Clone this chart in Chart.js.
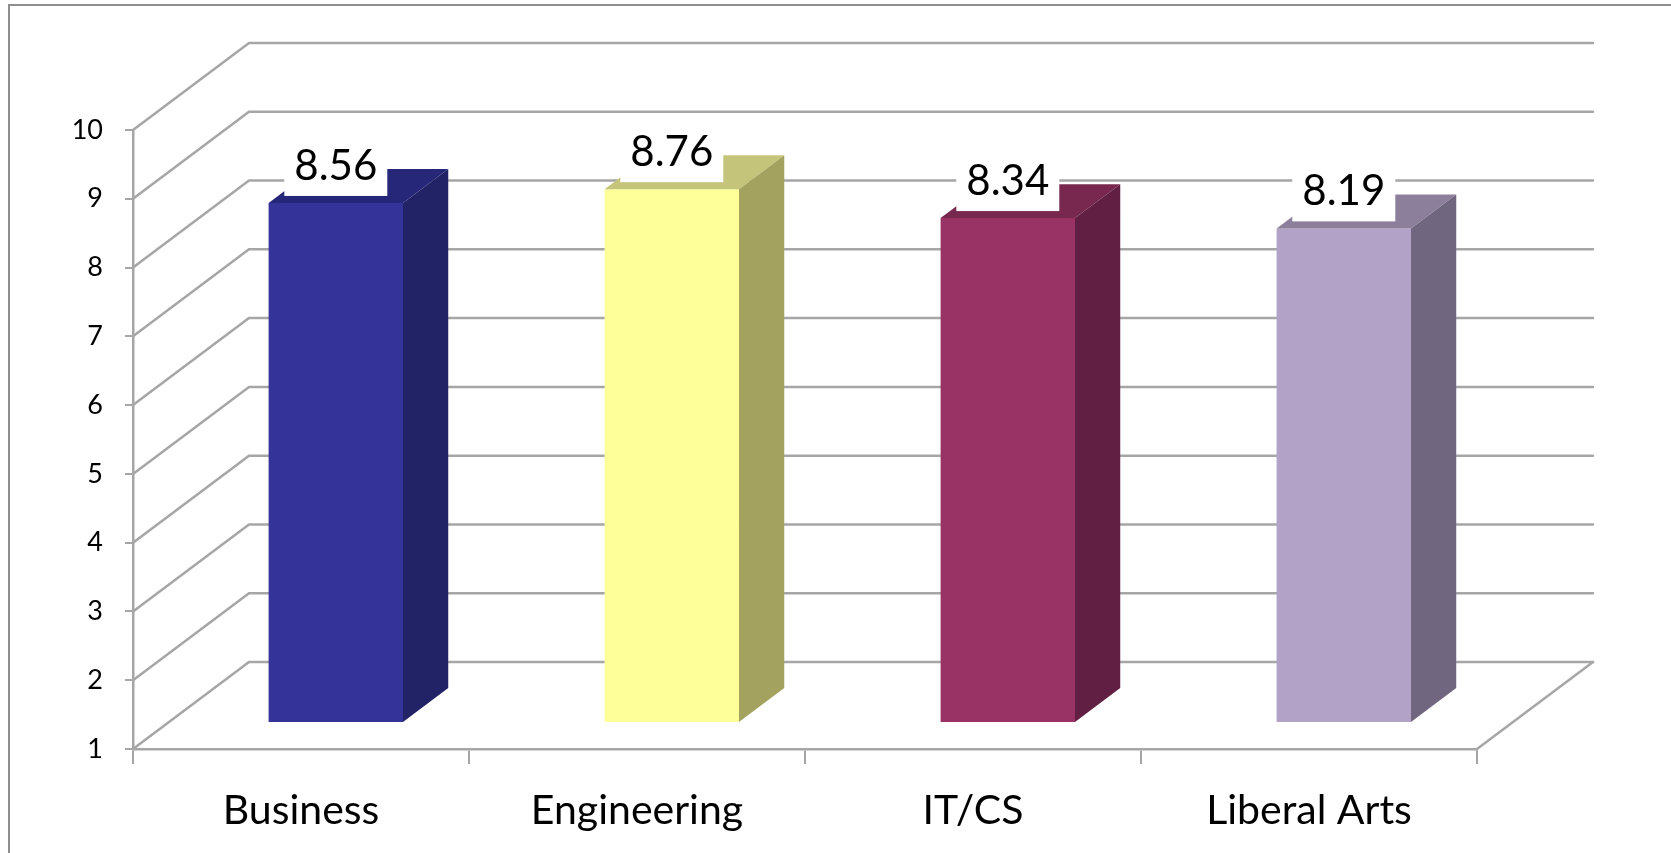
<!DOCTYPE html>
<html>
<head>
<meta charset="utf-8">
<script src="https://cdn.jsdelivr.net/npm/chart.js@4.4.0/dist/chart.umd.min.js"></script>
<style>
  html, body { margin: 0; padding: 0; background: #fff; }
  #wrap { width: 1671px; height: 853px; }
</style>
</head>
<body>
<div id="wrap"><canvas id="chart" width="1671" height="853"></canvas></div>
<script>
// values
const categories = ['Business', 'Engineering', 'IT/CS', 'Liberal Arts'];
const scores = [8.56, 8.76, 8.34, 8.19];
const yTicks = [1, 2, 3, 4, 5, 6, 7, 8, 9, 10];

// front / top / side face colours per bar
const frontColors = ['#333399', '#ffff99', '#993366', '#b3a2c7'];
const topColors = ['#27277a', '#c4c47a', '#78284f', '#8c7f9c'];
const sideColors = ['#222266', '#a3a35f', '#611f44', '#716680'];

const GRID = '#a6a6a6';
const DEPTH = { x: 116, y: -87 };   // how far the back wall sits behind the axis plane
const BAR_FRONT = 0.3;               // bar front face, as a share of the depth
const BAR_DEPTH = 0.39;              // bar thickness, as a share of the depth

// fake 3D: walls behind, extra faces on each bar, white value boxes
const pseudo3d = {
    id: 'pseudo3d',
    beforeDraw(chart) {
        const ctx = chart.ctx;
        ctx.save();
        ctx.strokeStyle = '#8e8e8e';
        ctx.lineWidth = 2;
        ctx.beginPath();
        ctx.moveTo(9, chart.height);
        ctx.lineTo(9, 5);
        ctx.lineTo(chart.width, 5);
        ctx.stroke();
        ctx.restore();
    },
    beforeDatasetsDraw(chart) {
        const ctx = chart.ctx;
        const area = chart.chartArea;
        const y = chart.scales.y;
        ctx.save();
        ctx.strokeStyle = GRID;
        ctx.lineWidth = 2.5;
        ctx.lineCap = 'round';
        yTicks.forEach(v => {
            const py = y.getPixelForValue(v);
            ctx.beginPath();
            ctx.moveTo(area.left, py);
            ctx.lineTo(area.left + DEPTH.x, py + DEPTH.y);
            ctx.lineTo(area.right + DEPTH.x, py + DEPTH.y);
            ctx.stroke();
        });
        // floor edge on the right
        ctx.beginPath();
        ctx.moveTo(area.right, area.bottom);
        ctx.lineTo(area.right + DEPTH.x, area.bottom + DEPTH.y);
        ctx.stroke();
        ctx.restore();

        // the library draws the front faces, pushed into the depth
        ctx.save();
        ctx.translate(DEPTH.x * BAR_FRONT, DEPTH.y * BAR_FRONT);
    },
    afterDatasetsDraw(chart) {
        const ctx = chart.ctx;
        ctx.restore();

        const fx = DEPTH.x * BAR_FRONT, fy = DEPTH.y * BAR_FRONT;
        const bx = DEPTH.x * BAR_DEPTH, by = DEPTH.y * BAR_DEPTH;
        const meta = chart.getDatasetMeta(0);
        ctx.save();
        meta.data.forEach((bar, i) => {
            const left = bar.x - bar.width / 2 + fx;
            const right = bar.x + bar.width / 2 + fx;
            const top = bar.y + fy;
            const bottom = bar.base + fy;

            ctx.fillStyle = topColors[i];
            ctx.beginPath();
            ctx.moveTo(left, top);
            ctx.lineTo(right, top);
            ctx.lineTo(right + bx, top + by);
            ctx.lineTo(left + bx, top + by);
            ctx.closePath();
            ctx.fill();

            ctx.fillStyle = sideColors[i];
            ctx.beginPath();
            ctx.moveTo(right, top);
            ctx.lineTo(right + bx, top + by);
            ctx.lineTo(right + bx, bottom + by);
            ctx.lineTo(right, bottom);
            ctx.closePath();
            ctx.fill();
        });

        // value boxes
        ctx.font = '42px Lato';
        ctx.textAlign = 'center';
        ctx.textBaseline = 'alphabetic';
        meta.data.forEach((bar, i) => {
            const text = scores[i].toFixed(2);
            const w = ctx.measureText(text).width + 20;
            const h = 50;
            const cx = bar.x + fx;
            const boxBottom = bar.y + fy - 7;
            ctx.fillStyle = '#ffffff';
            ctx.fillRect(cx - w / 2, boxBottom - h, w, h);
            ctx.fillStyle = '#000000';
            ctx.fillText(text, cx, boxBottom - 16);
        });
        ctx.restore();
    }
};

new Chart(document.getElementById('chart'), {
    type: 'bar',
    data: {
        labels: categories,
        datasets: [{
            data: scores,
            base: yTicks[0],
            backgroundColor: frontColors,
            borderWidth: 0,
            categoryPercentage: 1,
            barPercentage: 0.4,
            clip: false
        }]
    },
    options: {
        responsive: false,
        animation: false,
        layout: { padding: { left: 0, top: 130, right: 194, bottom: 0 } },
        plugins: {
            legend: { display: false },
            tooltip: { enabled: false }
        },
        scales: {
            x: {
                grid: { color: GRID, lineWidth: 2, drawOnChartArea: false, tickLength: 15 },
                border: { color: GRID, width: 2.5 },
                ticks: { color: '#000', font: { family: 'Lato', size: 41 }, padding: 22 },
                afterFit(scale) { scale.height = 104; }
            },
            y: {
                min: yTicks[0],
                max: yTicks[yTicks.length - 1],
                afterBuildTicks(scale) { scale.ticks = yTicks.map(v => ({ value: v })); },
                grid: { color: GRID, lineWidth: 2, drawOnChartArea: false, tickLength: 8 },
                border: { color: GRID, width: 2.5 },
                ticks: { color: '#000', font: { family: 'Lato', size: 27 }, padding: 22 },
                afterFit(scale) { scale.width = 133; }
            }
        }
    },
    plugins: [pseudo3d]
});
</script>
</body>
</html>
